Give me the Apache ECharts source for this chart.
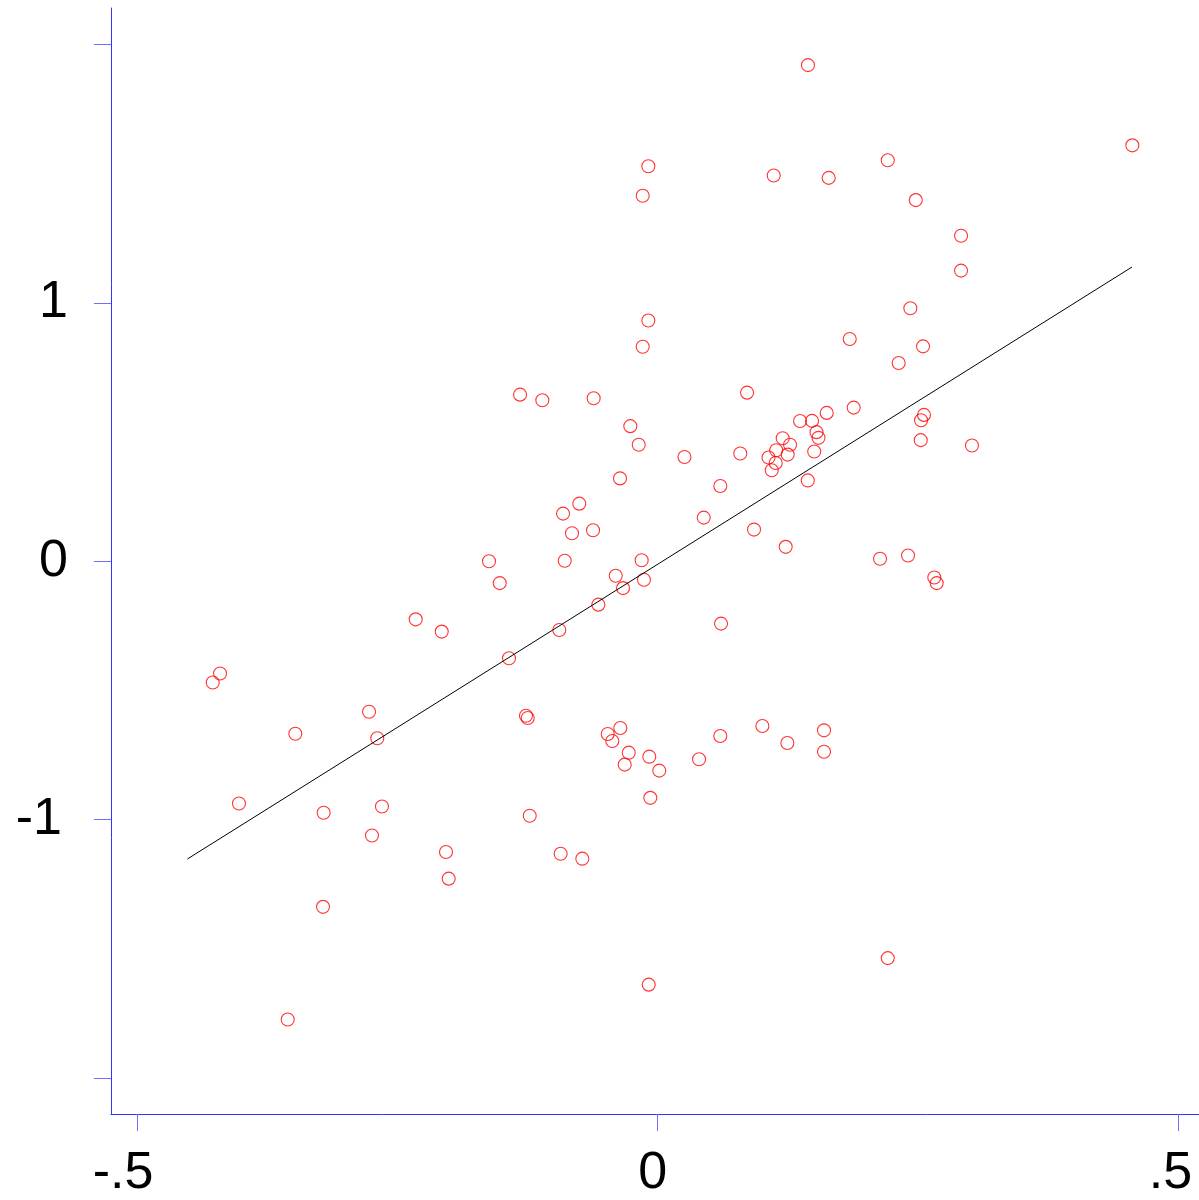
<!DOCTYPE html>
<html>
<head>
<meta charset="utf-8">
<script src="https://cdn.jsdelivr.net/npm/echarts@6/dist/echarts.min.js"></script>
<style>
html,body{margin:0;padding:0;background:#fff;}
#chart{width:1199px;height:1200px;}
</style>
</head>
<body>
<div id="chart"></div>
<script>
// scatter values
const xValues = [
  0.1443, 0.4558, -0.0090, 0.2209, 0.1114, 0.1642, -0.0144, 0.2478, 0.2913, 0.2913,
  0.2426, -0.0090, 0.1844, -0.0144, 0.2548, 0.2314, 0.0858, -0.1322, -0.1108, -0.0615,
  0.1882, 0.1623, 0.2557, 0.2529, 0.1367, 0.1482, -0.0263, 0.1525, 0.1544, 0.1200,
  0.2526, -0.0182, 0.3018, 0.1271, 0.1138, 0.1503, 0.1248, 0.0793, 0.0257, 0.1064,
  0.1133, 0.1095, -0.0362, 0.1441, 0.0601, -0.0753, -0.0909, 0.0442, 0.0925, -0.0621,
  -0.0823, 0.1229, -0.1620, -0.0893, -0.0154, 0.2404, 0.2135, -0.0403, -0.0132, 0.2656,
  0.2679, -0.1517, -0.0333, -0.0570, -0.2324, -0.2074, 0.0608, -0.0945, -0.1428, -0.4203,
  -0.4273, -0.2772, -0.1265, -0.1248, -0.3480, -0.2693, 0.1005, -0.0359, 0.1597, -0.0480,
  -0.0436, 0.0601, 0.1245, -0.0278, 0.1597, -0.0081, 0.0397, -0.0317, 0.0015, -0.4021,
  -0.2648, -0.3208, -0.1229, -0.0071, -0.2744, -0.2033, -0.0932, -0.0724, -0.2007, -0.3214,
  0.2209, -0.0086, -0.3553
];
const yValues = [
  1.9205, 1.610, 1.529, 1.552, 1.493, 1.484, 1.415, 1.398, 1.260, 1.125,
  0.9795, 0.932, 0.860, 0.830, 0.8317, 0.7672, 0.6525, 0.6448, 0.6232, 0.6309,
  0.5946, 0.5741, 0.5664, 0.5459, 0.5425, 0.5432, 0.5228, 0.4996, 0.4776, 0.4757,
  0.4687, 0.4506, 0.4479, 0.4506, 0.4293, 0.4247, 0.4127, 0.4170, 0.4031, 0.4012,
  0.3803, 0.3521, 0.3205, 0.3127, 0.2911, 0.2228, 0.1842, 0.1687, 0.1224, 0.1197,
  0.1081, 0.0556, 0.0000, 0.0015, 0.0039, 0.0220, 0.0097, -0.0564, -0.0718, -0.0629,
  -0.0849, -0.0849, -0.1042, -0.1683, -0.2251, -0.2726, -0.2417, -0.2664, -0.3757, -0.4347,
  -0.4695, -0.5830, -0.5985, -0.6073, -0.6680, -0.6857, -0.6382, -0.6459, -0.6548, -0.6691,
  -0.6961, -0.6768, -0.7039, -0.7413, -0.7375, -0.7568, -0.7668, -0.7876, -0.8108, -0.9382,
  -0.9498, -0.9741, -0.9857, -0.9162, -1.0618, -1.1259, -1.1324, -1.1517, -1.2290, -1.3382,
  -1.5367, -1.6394, -1.7745
];
// fitted line end points
const fitX = [-0.4516, 0.4555];
const fitY = [-1.1529, 1.1390];
// ticks and labels
const xTicks = [-0.5, 0, 0.5];
const xTickLabels = ['-.5', '0', '.5'];
const yTicks = [-2, -1, 0, 1, 2];
const yLabelValues = [-1, 0, 1];
const yTickLabels = ['-1', '0', '1'];

const scatterData = xValues.map((x, i) => [x, yValues[i]]);
const fitData = fitX.map((x, i) => [x, fitY[i]]);

const chart = echarts.init(document.getElementById('chart'));
const font = '"Liberation Sans", Arial, Helvetica, sans-serif';
const xRich = {m: {padding: [0, 28, 0, 0]}, z: {padding: [0, 10, 0, 0]}, p: {padding: [0, 16, 0, 0]}};
const xRichKey = ['m', 'z', 'p'];
chart.setOption({
  animation: false,
  backgroundColor: '#ffffff',
  grid: {left: 111, top: 8, right: 0, bottom: 83, containLabel: false},
  xAxis: {
    type: 'value',
    min: -0.5250, max: 0.5198,
    splitLine: {show: false},
    axisLine: {show: true, onZero: false, lineStyle: {color: '#3333ff', width: 1}},
    axisTick: {show: true, length: 17, customValues: xTicks, lineStyle: {color: '#7070ff', width: 1}},
    axisLabel: {
      show: true, customValues: xTicks, margin: 34,
      color: '#000', fontSize: 52, fontFamily: font,
      formatter: v => {
        const i = xTicks.findIndex(t => Math.abs(t - v) < 1e-9);
        return i < 0 ? '' : '{' + xRichKey[i] + '|' + xTickLabels[i] + '}';
      },
      rich: xRich
    }
  },
  yAxis: {
    type: 'value',
    min: -2.1402, max: 2.1417,
    splitLine: {show: false},
    axisLine: {show: true, onZero: false, lineStyle: {color: '#3333ff', width: 1}},
    axisTick: {show: true, length: 17, customValues: yTicks, lineStyle: {color: '#7070ff', width: 1}},
    axisLabel: {
      show: true, customValues: yLabelValues, margin: 43,
      color: '#000', fontSize: 52, fontFamily: font,
      formatter: v => {
        const i = yLabelValues.findIndex(t => Math.abs(t - v) < 1e-9);
        if (i < 0) return '';
        return (yTickLabels[i] === '-1' ? '{n|' : '{q|') + yTickLabels[i] + '}';
      },
      rich: {n: {padding: [0, 6, 0, 0]}, q: {}}
    }
  },
  series: [
    {
      type: 'scatter',
      data: scatterData,
      symbol: 'circle',
      symbolSize: 13,
      itemStyle: {color: 'rgba(0,0,0,0)', borderColor: '#ff0000', borderWidth: 1.1},
      emphasis: {disabled: true},
      z: 2
    },
    {
      type: 'line',
      data: fitData,
      showSymbol: false,
      symbol: 'none',
      lineStyle: {color: '#000000', width: 1},
      emphasis: {disabled: true},
      z: 3
    }
  ]
});
</script>
</body>
</html>
